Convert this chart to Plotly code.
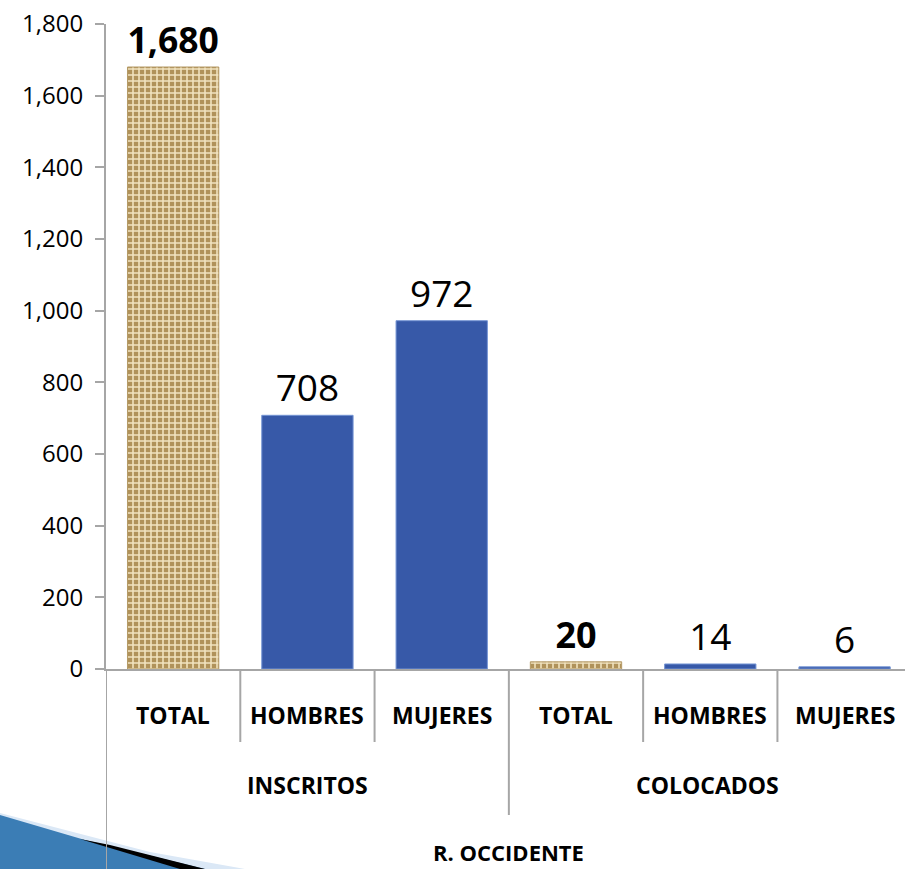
import plotly.graph_objects as go

# ---- data ----
subcats = ["TOTAL", "HOMBRES", "MUJERES", "TOTAL", "HOMBRES", "MUJERES"]
groups = ["INSCRITOS", "COLOCADOS"]
region = "R. OCCIDENTE"
values = [1680, 708, 972, 20, 14, 6]
is_total = [True, False, False, True, False, False]
y_ticks = [0, 200, 400, 600, 800, 1000, 1200, 1400, 1600, 1800]

W, H = 905, 869
L, R, T, B = 106, 0, 24, 200
PW, PH = W - L - R, H - T - B

def px(xp):
    return (xp - L) / PW

def py(yp):
    return (H - B - yp) / PH

xs = list(range(len(values)))
tot_x = [x for x, t in zip(xs, is_total) if t]
tot_y = [v for v, t in zip(values, is_total) if t]
gen_x = [x for x, t in zip(xs, is_total) if not t]
gen_y = [v for v, t in zip(values, is_total) if not t]

FONT = "Open Sans"

fig = go.Figure()
fig.add_trace(go.Bar(
    x=tot_x, y=tot_y, width=0.68,
    marker=dict(color="#c7ab74",
                line=dict(color="#b59a66", width=1),
                pattern=dict(shape="+", fgcolor="#f2e4c0", bgcolor="#b0925a",
                             size=6, solidity=0.45, fillmode="replace")),
    text=[f"<b>{v:,}</b>" for v in tot_y], textposition="outside",
    textfont=dict(family=FONT, size=36, color="#000000"),
    cliponaxis=False, showlegend=False,
))
fig.add_trace(go.Bar(
    x=gen_x, y=gen_y, width=0.68,
    marker=dict(color="#3759a8", line=dict(color="#7595d4", width=1)),
    text=[f"{v:,}" for v in gen_y], textposition="outside",
    textfont=dict(family=FONT, size=37, color="#000000"),
    cliponaxis=False, showlegend=False,
))

AX = "#a6a6a6"
fig.update_xaxes(range=[-0.5, 5.45], showticklabels=False, showgrid=False,
                 zeroline=False, showline=True, linecolor=AX, linewidth=2,
                 ticks="", fixedrange=True)
fig.update_yaxes(range=[0, 1800], tickvals=y_ticks, tickformat=",",
                 showgrid=False, zeroline=False, showline=True, linecolor=AX,
                 linewidth=2, ticks="outside", ticklen=9, tickcolor=AX,
                 tickwidth=2, tickfont=dict(family=FONT, size=24, color="#000"),
                 ticklabelstandoff=7)

shapes = []
# separators between sub-categories
for b in [0.5, 1.5, 3.5, 4.5]:
    shapes.append(dict(type="line", xref="x", yref="paper", x0=b, x1=b,
                       y0=0, y1=py(742), line=dict(color=AX, width=2)))
shapes.append(dict(type="line", xref="x", yref="paper", x0=2.5, x1=2.5,
                   y0=0, y1=py(815), line=dict(color=AX, width=2)))
shapes.append(dict(type="line", xref="x", yref="paper", x0=-0.5, x1=-0.5,
                   y0=0, y1=py(869), line=dict(color=AX, width=2)))
# decorative corner swoosh
shapes.append(dict(type="path", xref="paper", yref="paper", layer="below",
                   path=f"M {px(0)},{py(813)} L {px(150)},{py(852)} L {px(245)},{py(869)} L {px(0)},{py(869)} Z",
                   fillcolor="#dbe8f6", line=dict(width=0)))
shapes.append(dict(type="path", xref="paper", yref="paper", layer="below",
                   path=f"M {px(0)},{py(815)} L {px(85)},{py(840)} L {px(205)},{py(869)} L {px(0)},{py(869)} Z",
                   fillcolor="#3b7db5", line=dict(width=0)))
shapes.append(dict(type="path", xref="paper", yref="paper", layer="below",
                   path=f"M {px(80)},{py(839)} L {px(110)},{py(845)} L {px(205)},{py(869)} L {px(180)},{py(869)} Z",
                   fillcolor="#000000", line=dict(width=0)))

ann = []
for x, s in zip(xs, subcats):
    ann.append(dict(x=x, y=py(715), xref="x", yref="paper", text=f"<b>{s}</b>",
                    yanchor="middle", xanchor="center",
                    showarrow=False, font=dict(family=FONT, size=23, color="#000")))
for gi, g in enumerate(groups):
    ann.append(dict(x=1 if gi == 0 else 3.98, y=py(785), xref="x", yref="paper",
                    yanchor="middle", xanchor="center",
                    text=f"<b>{g}</b>", showarrow=False,
                    font=dict(family=FONT, size=23, color="#000")))
ann.append(dict(x=2.5, y=py(852), xref="x", yref="paper", text=f"<b>{region}</b>",
                yanchor="middle", xanchor="center",
                showarrow=False, font=dict(family=FONT, size=22, color="#000")))

fig.update_layout(width=W, height=H, margin=dict(l=L, r=R, t=T, b=B),
                  plot_bgcolor="white", paper_bgcolor="white",
                  shapes=shapes, annotations=ann, bargap=0.32)

fig.write_html("out.html", config={"displayModeBar": False},
               post_script="document.body.style.margin='0px';document.body.style.overflow='hidden';")
